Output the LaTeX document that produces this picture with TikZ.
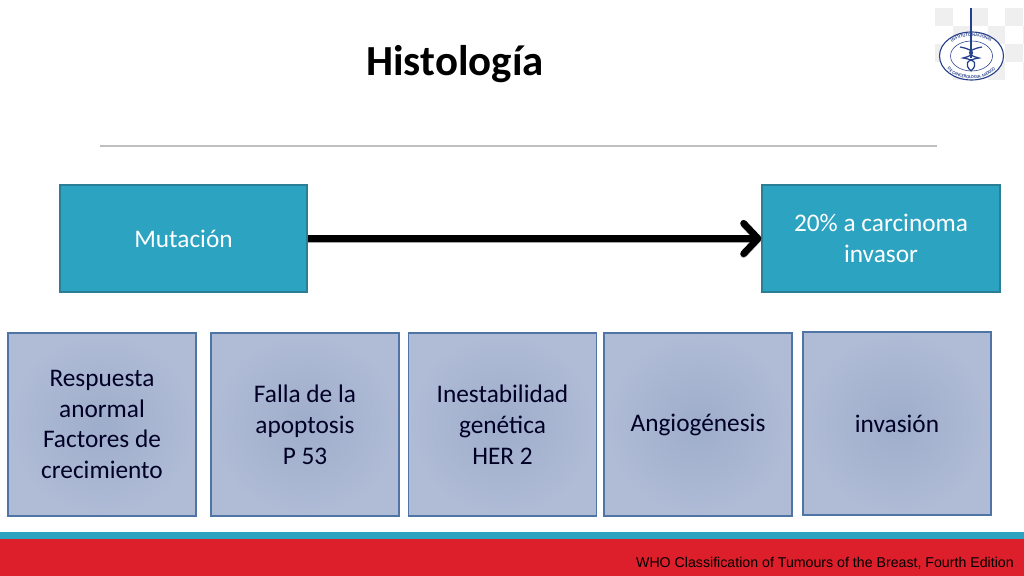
\documentclass[tikz,border=0pt]{standalone}
\usepackage{fontspec}
\setmainfont{Carlito}
\newfontfamily\whofont{Liberation Sans}
\usetikzlibrary{arrows.meta,decorations.text,shadows}

\definecolor{tealbox}{HTML}{2CA3C1}
\definecolor{tealline}{HTML}{2A7F96}
\definecolor{bandred}{HTML}{DC1F2B}
\definecolor{bluebox}{HTML}{B0BCD6}
\definecolor{blueboxin}{HTML}{9EADCB}
\definecolor{blueline}{HTML}{4F75A6}
\definecolor{logoblue}{HTML}{27408B}
\definecolor{checker}{HTML}{EFEFEF}

\tikzset{
    tealnode/.style={draw=tealline, fill=tealbox, line width=0.8pt, text=white,
        font=\fontsize{18}{22}\selectfont, align=center,
        minimum width=#1, minimum height=2.675cm, inner sep=0pt},
    bluenode/.style={draw=blueline, line width=0.8pt, shading=radial,
        inner color=blueboxin, outer color=bluebox, text=black!85!blue,
        font=\fontsize{18}{22}\selectfont, align=center,
        minimum width=4.7cm, minimum height=4.575cm, inner sep=0pt},
}

\begin{document}
\begin{tikzpicture}[x=0.025cm, y=-0.025cm]

\useasboundingbox (0,0) rectangle (1024,576);
\fill [white] (0,0) rectangle (1024,576);

% logo
\foreach \i in {0,...,4} {
    \foreach \j in {0,1} {
        \fill [checker] ({935+2*\i*17.5},{8+2*\j*18}) rectangle +(17.5,18);
        \fill [checker] ({952.5+2*\i*17.5},{26+2*\j*18}) rectangle +(17.5,18);
    }
}
\fill [white] (1024,0) rectangle (1045,100);
\draw [logoblue, line width=0.8pt, fill=white] (971.5,56) ellipse (32 and 24);
\draw [logoblue, line width=0.4pt] (971.5,56) ellipse (21 and 15);
\draw [logoblue, line width=1.5pt] (971,8) -- (971,58);
\draw [logoblue, line width=0.9pt] (960,47) .. controls (976,50) and (976,55) .. (963,58)
    .. controls (976,60) and (978,64) .. (971,71);
\draw [logoblue, line width=0.9pt] (982,47) .. controls (966,50) and (966,55) .. (979,58)
    .. controls (966,60) and (964,64) .. (971,71);
\path [decorate, decoration={text along path, text align=center,
    text={|\fontsize{3.2}{4}\selectfont\bfseries\color{logoblue}|INSTITUTO NACIONAL}}]
    (946,52) .. controls (950,31) and (993,31) .. (997,52);
\path [decorate, decoration={text along path, text align=center,
    text={|\fontsize{3.2}{4}\selectfont\bfseries\color{logoblue}|DE CANCEROLOGIA. MEXICO}}]
    (944,63) .. controls (952,84) and (991,84) .. (999,63);

% title and rule
\node (title) at (455,64) {\fontsize{30.5}{36}\selectfont\bfseries Histología};
\draw [black!25, line width=0.8pt] (100,146) -- (937,146);

% top row
\node [tealnode=6.175cm] (mutacion) at (183.5,238.5) {Mutación};
\node [tealnode=5.95cm] (carcinoma) at (881,238.5) {20\% a carcinoma\\invasor};

\draw [line width=4.8pt, black,
    -{Straight Barb[length=3.6mm, width=7.6mm, round]},
    preaction={draw=black!35, line width=4.8pt, transform canvas={yshift=-0.6pt}}]
    (mutacion) -- (carcinoma);

% bottom row
\node [bluenode] (respuesta) at (102,424.5) {Respuesta\\anormal\\Factores de\\crecimiento};
\node [bluenode] (falla) at (305,424.5) {Falla de la\\apoptosis\\P 53};
\node [bluenode] (inestabilidad) at (502.5,424.5) {Inestabilidad\\genética\\HER 2};
\node [bluenode] (angiogenesis) at (698,424.5) {Angiogénesis};
\node [bluenode] (invasion) at (897,423.5) {invasión};

% footer
\fill [tealbox] (0,532) rectangle (1024,538.5);
\fill [bandred] (0,538.5) rectangle (1024,576);
\node [anchor=east, inner sep=0pt, text=black] (fuente) at (1014,563)
    {\whofont\fontsize{10.08}{12}\selectfont WHO Classification of Tumours of the Breast, Fourth Edition};

\end{tikzpicture}
\end{document}
